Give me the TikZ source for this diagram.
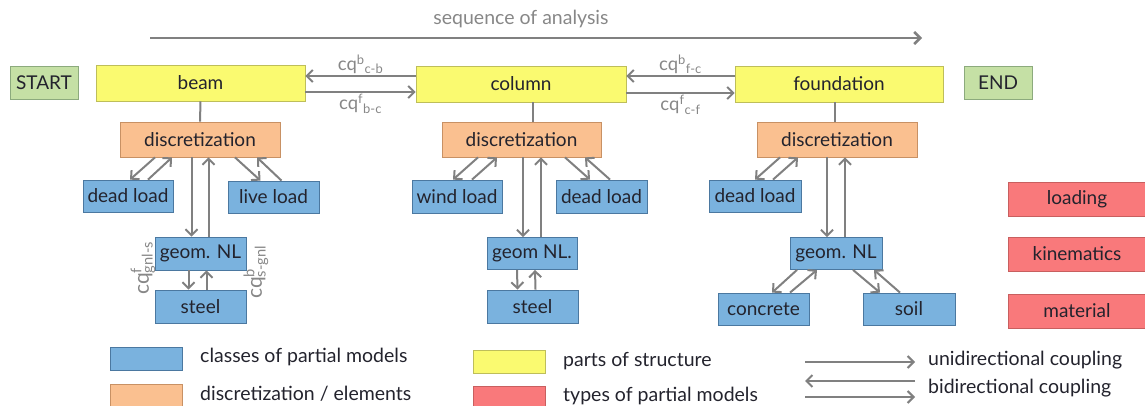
\documentclass[tikz,border=0pt]{standalone}
\usepackage{fontspec}
\setmainfont{Lato}
\usetikzlibrary{arrows.meta, positioning}
\usepackage{xcolor}
\definecolor{partyellow}{RGB}{250,250,112}
\definecolor{partborder}{RGB}{190,190,90}
\definecolor{discorange}{RGB}{250,192,144}
\definecolor{discborder}{RGB}{200,145,100}
\definecolor{classblue}{RGB}{122,178,222}
\definecolor{classborder}{RGB}{75,120,160}
\definecolor{startgreen}{RGB}{197,224,165}
\definecolor{startborder}{RGB}{140,170,125}
\definecolor{typered}{RGB}{249,121,123}
\definecolor{typeborder}{RGB}{200,95,95}
\definecolor{linegray}{RGB}{128,128,128}
\definecolor{labelgray}{RGB}{135,135,135}
\definecolor{textdark}{RGB}{35,35,45}
\tikzset{block/.style={rectangle, line width=0.8pt, inner sep=0pt, text=textdark, font=\fontsize{19}{21}\selectfont},
partnode/.style={block, draw=partborder, fill=partyellow, minimum height=36pt},
discnode/.style={block, draw=discborder, fill=discorange, minimum width=160pt, minimum height=35pt},
classnode/.style={block, draw=classborder, fill=classblue, minimum width=91pt, minimum height=32pt},
startnode/.style={block, draw=startborder, fill=startgreen, minimum width=68pt, minimum height=33pt},
typenode/.style={block, draw=typeborder, fill=typered, minimum width=137pt, minimum height=34pt},
uni/.style={draw=linegray, line width=2pt, -{Straight Barb[length=6pt, width=12pt]}},
tie/.style={draw=linegray, line width=2pt},
cqlabel/.style={text=labelgray, font=\fontsize{18.5}{20}\selectfont, inner sep=1pt},
legendtext/.style={anchor=west, text=textdark, font=\fontsize{19.5}{21}\selectfont, inner sep=0pt}}

\begin{document}
\begin{tikzpicture}[x=1pt, y=-1pt]
        \useasboundingbox (0,0) rectangle (1145,405);
        % Sequence of analysis
        \coordinate (seqstart) at (150,38);
        \coordinate (seqend) at (922,38);
        \draw[uni, line width=2.6pt] (seqstart) -- (seqend);
        \node[cqlabel, font=\fontsize{19.5}{21}\selectfont] (seqtext) at (521,19) {sequence of analysis};
        % Parts of structure
        \node[startnode] (start) at (44,82.5) {START};
        \node[partnode, minimum width=209pt] (beam) at (200.5,83) {beam};
        \node[partnode, minimum width=210pt] (column) at (521,84) {column};
        \node[partnode, minimum width=208pt] (foundation) at (839,84) {foundation};
        \node[startnode] (end) at (998,82.5) {END};
        % Couplings between parts
        \draw[uni] ([yshift=8pt]column.west) -- ([yshift=8pt]beam.east |- column.west) node[cqlabel, midway, above=0pt] (cqcb) {cq\textsuperscript{b}\textsubscript{c-b}};
        \draw[uni] ([yshift=-9pt]beam.east) -- ([yshift=-9pt]column.west |- beam.east) node[cqlabel, midway, below=0pt] (cqbc) {cq\textsuperscript{f}\textsubscript{b-c}};
        \draw[uni] ([yshift=8pt]foundation.west) -- ([yshift=8pt]column.east) node[cqlabel, midway, above=0pt] (cqfc) {cq\textsuperscript{b}\textsubscript{f-c}};
        \draw[uni] ([yshift=-9pt]column.east) -- ([yshift=-9pt]foundation.west) node[cqlabel, midway, below=0pt] (cqcf) {cq\textsuperscript{f}\textsubscript{c-f}};
        % Beam
        \node[discnode] (discb) at (200,139.5) {discretization};
        \node[classnode, minimum width=90pt] (deadb) at (128,196) {dead load};
        \node[classnode] (liveb) at (273.5,197) {live load};
        \node[classnode, minimum height=33pt] (geomb) at (200.5,253.5) {geom. NL};
        \node[classnode, minimum height=33pt] (steelb) at (200.5,306.5) {steel};
        \draw[tie] (beam) -- (discb);
        \draw[uni] ([xshift=-45pt]discb.south) -- ([xshift=2pt]deadb.north);
        \draw[uni] ([xshift=20pt]deadb.north) -- ([xshift=-28pt]discb.south);
        \draw[uni] ([xshift=35pt]discb.south) -- ([xshift=-13pt]liveb.north);
        \draw[uni] ([xshift=8pt]liveb.north) -- ([xshift=57pt]discb.south);
        \draw[uni] ([xshift=-9pt]geomb.north |- discb.south) -- ([xshift=-9pt]geomb.north);
        \draw[uni] ([xshift=8pt]geomb.north) -- ([xshift=8pt]geomb.north |- discb.south);
        \draw[uni] ([xshift=-12pt]geomb.south) -- ([xshift=-12pt]steelb.north);
        \draw[uni] ([xshift=6pt]steelb.north) -- ([xshift=6pt]geomb.south);
        \node[cqlabel, rotate=90, font=\fontsize{21}{22}\selectfont] (cqgs) at (143,268) {cq\rlap{\textsuperscript{f}}\textsubscript{gnl-s}};
        \node[cqlabel, rotate=90, font=\fontsize{21}{22}\selectfont] (cqsg) at (256,272) {cq\rlap{\textsuperscript{b}}\textsubscript{s-gnl}};
        % Column
        \node[discnode, minimum width=159pt] (discc) at (521.5,139.5) {discretization};
        \node[classnode, minimum width=90pt, minimum height=33pt] (windc) at (457,196.5) {wind load};
        \node[classnode, minimum height=33pt] (deadc) at (601.5,196.5) {dead load};
        \node[classnode, minimum width=90pt] (geomc) at (532,253.5) {geom NL.};
        \node[classnode, minimum height=33pt] (steelc) at (532.5,306.5) {steel};
        \draw[tie] ([xshift=12pt]column.south) -- ([xshift=12pt]column.south |- discc.north);
        \draw[uni] ([xshift=-43.5pt]discc.south) -- ([xshift=-4pt]windc.north);
        \draw[uni] ([xshift=15pt]windc.north) -- ([xshift=-24.5pt]discc.south);
        \draw[uni] ([xshift=43.5pt]discc.south) -- ([xshift=-11.5pt]deadc.north);
        \draw[uni] ([xshift=8.5pt]deadc.north) -- ([xshift=63.5pt]discc.south);
        \draw[uni] ([xshift=-9pt]geomc.north |- discc.south) -- ([xshift=-9pt]geomc.north);
        \draw[uni] ([xshift=9pt]geomc.north) -- ([xshift=9pt]geomc.north |- discc.south);
        \draw[uni] ([xshift=-15pt]geomc.south) -- ([xshift=-15pt]steelc.north);
        \draw[uni] ([xshift=3pt]steelc.north) -- ([xshift=3pt]geomc.south);
        % Foundation
        \node[discnode] (discf) at (837,139.5) {discretization};
        \node[classnode, minimum width=92pt] (deadf) at (755,196) {dead load};
        \node[classnode, minimum width=92pt] (geomf) at (836,253.5) {geom. NL};
        \node[classnode] (concretef) at (763.5,309) {concrete};
        \node[classnode, minimum width=92pt] (soilf) at (909,309) {soil};
        \draw[tie] ([xshift=-4pt]foundation.south) -- ([xshift=-4pt]foundation.south |- discf.north);
        \draw[uni] ([xshift=-57pt]discf.south) -- (deadf.north);
        \draw[uni] ([xshift=18pt]deadf.north) -- ([xshift=-39pt]discf.south);
        \draw[uni] ([xshift=-9pt]geomf.north |- discf.south) -- ([xshift=-9pt]geomf.north);
        \draw[uni] ([xshift=9pt]geomf.north) -- ([xshift=9pt]geomf.north |- discf.south);
        \draw[uni] ([xshift=-39pt]geomf.south) -- ([xshift=8.5pt]concretef.north);
        \draw[uni] ([xshift=26.5pt]concretef.north) -- ([xshift=-19pt]geomf.south);
        \draw[uni] ([xshift=17pt]geomf.south) -- ([xshift=-29pt]soilf.north);
        \draw[uni] ([xshift=-9pt]soilf.north) -- ([xshift=38pt]geomf.south);
        % Types of partial models
        \node[typenode] (loading) at (1077,199) {loading};
        \node[typenode] (kinematics) at (1077,254) {kinematics};
        \node[typenode] (material) at (1077,311) {material};
        % Legend
        \node[classnode, minimum width=72pt, minimum height=23pt] (keyclass) at (146,358.5) {};
        \node[legendtext] (keyclasstext) at (200,357) {classes of partial models};
        \node[discnode, minimum width=72pt, minimum height=23pt] (keydisc) at (146,395.5) {};
        \node[legendtext] (keydisctext) at (200,394) {discretization / elements};
        \node[partnode, minimum width=72pt, minimum height=23pt] (keypart) at (509,361.5) {};
        \node[legendtext] (keyparttext) at (563,361) {parts of structure};
        \node[typenode, minimum width=72pt, minimum height=23pt] (keytype) at (509,397.5) {};
        \node[legendtext] (keytypetext) at (563,396) {types of partial models};
        \coordinate (unileft) at (805,362);
        \coordinate (uniright) at (915,362);
        \draw[uni] (unileft) -- (uniright);
        \node[legendtext] (unitext) at (928,360) {unidirectional coupling};
        \coordinate (bileft) at (805,381);
        \coordinate (biright) at (915,381);
        \coordinate (bileftlow) at (805,397);
        \coordinate (birightlow) at (915,397);
        \draw[uni] (biright) -- (bileft);
        \draw[uni] (bileftlow) -- (birightlow);
        \node[legendtext] (bitext) at (928,388) {bidirectional coupling};
    \end{tikzpicture}
\end{document}
